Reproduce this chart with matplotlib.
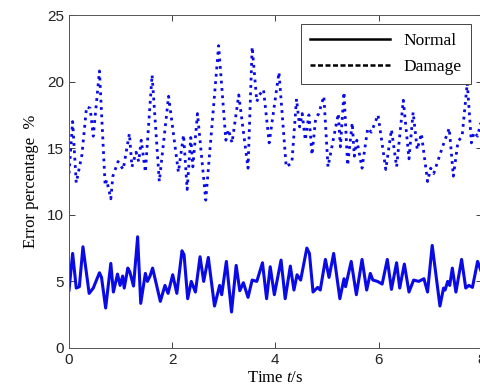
import matplotlib.pyplot as plt
from matplotlib.lines import Line2D

# ---- data (time in s, error in %) ----
t_damage = [0.00, 0.07, 0.14, 0.25, 0.34, 0.41, 0.47, 0.59, 0.70, 0.73, 0.81, 0.85, 0.95,
            1.05, 1.17, 1.22, 1.30, 1.35, 1.40, 1.48, 1.61, 1.75, 1.93, 2.12, 2.22, 2.29,
            2.36, 2.40, 2.49, 2.65, 2.90, 3.04, 3.09, 3.16, 3.29, 3.47, 3.55, 3.64, 3.69,
            3.77, 3.88, 4.07, 4.21, 4.32, 4.41, 4.47, 4.52, 4.58, 4.65, 4.71, 4.78, 4.84,
            4.94, 5.02, 5.22, 5.26, 5.33, 5.40, 5.49, 5.53, 5.58, 5.68, 5.79, 5.86, 5.99,
            6.14, 6.25, 6.35, 6.48, 6.59, 6.67, 6.75, 6.83, 6.95, 7.01, 7.07, 7.24, 7.37,
            7.45, 7.54, 7.62, 7.72, 7.80, 7.85, 7.92, 7.98]
damage = [13.1, 17.0, 12.4, 14.5, 18.1, 18.0, 15.9, 20.8, 12.2, 12.6, 11.2, 12.9, 14.0,
          13.4, 16.1, 13.6, 14.7, 14.0, 15.6, 13.2, 20.5, 12.5, 18.9, 13.2, 16.0, 11.9,
          15.8, 13.6, 17.6, 11.1, 22.7, 15.6, 16.4, 15.4, 19.0, 13.5, 22.6, 18.5, 19.0,
          19.4, 15.4, 20.7, 13.6, 13.9, 18.7, 16.6, 17.6, 15.6, 17.5, 14.5, 17.2, 17.6,
          18.9, 13.6, 17.6, 15.1, 19.2, 13.7, 16.9, 14.4, 15.6, 13.5, 16.5, 16.2, 17.5,
          13.4, 16.4, 13.6, 18.6, 14.2, 17.7, 14.9, 16.1, 12.5, 13.5, 13.1, 15.1, 16.5,
          12.9, 15.5, 15.9, 19.9, 15.4, 16.2, 15.9, 16.9]

t_normal = [0.00, 0.07, 0.14, 0.20, 0.27, 0.39, 0.47, 0.59, 0.63, 0.71, 0.81, 0.86, 0.94,
            0.99, 1.04, 1.07, 1.14, 1.18, 1.25, 1.33, 1.39, 1.48, 1.52, 1.57, 1.62, 1.77,
            1.86, 1.92, 2.01, 2.09, 2.19, 2.23, 2.30, 2.37, 2.45, 2.54, 2.61, 2.70, 2.82,
            2.92, 2.96, 3.05, 3.15, 3.24, 3.31, 3.38, 3.47, 3.55, 3.64, 3.75, 3.83, 3.90,
            3.98, 4.11, 4.19, 4.29, 4.36, 4.42, 4.49, 4.61, 4.66, 4.73, 4.82, 4.87, 4.97,
            5.04, 5.13, 5.25, 5.33, 5.36, 5.47, 5.57, 5.68, 5.77, 5.84, 5.89, 5.98, 6.07,
            6.17, 6.25, 6.35, 6.41, 6.50, 6.59, 6.68, 6.78, 6.88, 6.95, 7.04, 7.19, 7.26,
            7.29, 7.34, 7.38, 7.43, 7.50, 7.61, 7.69, 7.75, 7.82, 7.92, 7.98]
normal = [4.35, 7.1, 4.5, 4.6, 7.6, 4.1, 4.5, 5.65, 5.3, 3.0, 6.35, 4.2, 5.55,
          4.7, 5.4, 4.5, 6.0, 5.7, 4.65, 8.35, 3.35, 5.6, 5.0, 5.4, 6.0, 3.5,
          4.7, 4.1, 5.5, 4.1, 7.3, 7.0, 3.7, 5.0, 4.2, 6.85, 5.0, 6.8, 3.15,
          4.7, 4.0, 6.5, 2.7, 6.2, 4.3, 4.9, 3.8, 5.1, 5.0, 6.4, 3.7, 6.1,
          4.0, 6.6, 3.7, 6.15, 4.35, 5.5, 5.1, 7.5, 7.1, 4.2, 4.55, 4.35, 6.65,
          5.3, 7.1, 3.7, 5.2, 4.6, 6.5, 4.0, 6.65, 4.35, 5.6, 5.1, 5.0, 4.8,
          6.65, 4.4, 6.4, 4.5, 6.3, 4.2, 5.1, 5.0, 5.2, 4.2, 7.7, 3.15, 4.5,
          4.35, 5.0, 4.7, 6.0, 4.2, 6.65, 4.5, 4.7, 4.55, 6.5, 5.85]

x_ticks = [0, 2, 4, 6, 8]
y_ticks = [0, 5, 10, 15, 20, 25]

serif = 'Liberation Serif'
sans = 'Liberation Sans'

# italic "t" in the x label drawn in the serif face
plt.rcParams['mathtext.fontset'] = 'custom'
plt.rcParams['mathtext.it'] = 'Liberation Serif:italic'
plt.rcParams['mathtext.rm'] = 'Liberation Serif'

fig = plt.figure(figsize=(4.81, 3.91), dpi=100)
ax = fig.add_axes([0.1435, 0.110, 0.858, 0.8516])

ax.plot(t_damage, damage, color='#0a0ae6', linestyle=':', linewidth=2.0)
ax.plot(t_normal, normal, color='#0a0ae6', linestyle='-', linewidth=2.2)

ax.set_xlim(0, 8)
ax.set_ylim(0, 25)
ax.set_xticks(x_ticks)
ax.set_yticks(y_ticks)
ax.tick_params(direction='in', top=True, right=True, length=4, width=0.6,
               labelsize=11, colors='#222222')
for lbl in ax.get_xticklabels() + ax.get_yticklabels():
    lbl.set_family(sans)
for sp in ax.spines.values():
    sp.set_linewidth(0.7)
    sp.set_color('#555555')

ax.set_xlabel('Time $\\it{t}$/s', family=serif, fontsize=12, labelpad=2)
ax.set_ylabel('Error percentage  %', family=serif, fontsize=12, labelpad=6)

handles = [Line2D([], [], color='black', linestyle='-', linewidth=1.8),
           Line2D([], [], color='black', linestyle=(0, (2, 1)), linewidth=1.8)]
leg = ax.legend(handles, ['Normal', 'Damage'], loc='upper right',
                bbox_to_anchor=(0.973, 0.973), borderaxespad=0, fancybox=False,
                framealpha=1, edgecolor='#444444', handlelength=4.6,
                prop={'family': serif, 'size': 12.5}, borderpad=0.5, labelspacing=0.6)
leg.get_frame().set_linewidth(0.7)

fig.savefig('out.png', dpi=100)
